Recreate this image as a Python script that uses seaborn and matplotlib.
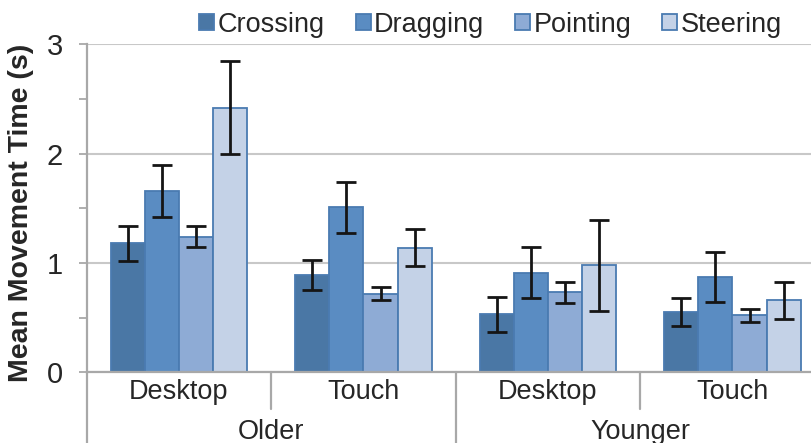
import matplotlib
matplotlib.use("Agg")
import matplotlib.pyplot as plt
import matplotlib.transforms as mtransforms
import numpy as np
import pandas as pd
import seaborn as sns

# values
conditions = ["Older Desktop", "Older Touch", "Younger Desktop", "Younger Touch"]
devices = ["Desktop", "Touch", "Desktop", "Touch"]
age_groups = ["Older", "Younger"]
tasks = ["Crossing", "Dragging", "Pointing", "Steering"]

crossing_mean = [1.18, 0.89, 0.53, 0.55]
dragging_mean = [1.66, 1.51, 0.91, 0.87]
pointing_mean = [1.24, 0.72, 0.73, 0.52]
steering_mean = [2.42, 1.14, 0.98, 0.66]

crossing_err = [0.16, 0.14, 0.16, 0.13]
dragging_err = [0.24, 0.235, 0.235, 0.23]
pointing_err = [0.095, 0.06, 0.093, 0.057]
steering_err = [0.425, 0.17, 0.415, 0.17]

means = {"Crossing": crossing_mean, "Dragging": dragging_mean,
         "Pointing": pointing_mean, "Steering": steering_mean}
errs = {"Crossing": crossing_err, "Dragging": dragging_err,
        "Pointing": pointing_err, "Steering": steering_err}

df = pd.DataFrame(
    [(c, t, means[t][i]) for t in tasks for i, c in enumerate(conditions)],
    columns=["condition", "task", "time"],
)

sns.set_style("white")
plt.rcParams["font.family"] = ["Liberation Sans", "DejaVu Sans"]

palette = ["#4a77a5", "#5a8cc2", "#8eabd5", "#c4d2e7"]
GRAY = "#a8a8a8"
FS = 19.5

fig = plt.figure(figsize=(8.12, 4.43), dpi=100)
ax = fig.add_axes([86.7 / 812, 0.1596, 1 - 86.7 / 812, 0.7404])

sns.barplot(data=df, x="condition", y="time", hue="task", order=conditions,
            hue_order=tasks, palette=palette, width=0.74, errorbar=None,
            edgecolor="#4a7bb1", linewidth=1.3, saturation=1, ax=ax)

# error bars placed on the drawn bars
for task, container in zip(tasks, ax.containers):
    for i, bar in enumerate(container.patches):
        cx = bar.get_x() + bar.get_width() / 2
        ax.errorbar(cx, bar.get_height(), yerr=errs[task][i], fmt="none",
                    ecolor="#151515", elinewidth=2.0, capsize=7.5, capthick=2.0,
                    zorder=5)

handles, labels = ax.get_legend_handles_labels()
ax.get_legend().remove()
fig.legend(handles, labels, loc="center", bbox_to_anchor=(0.604, 0.944),
           ncol=4, frameon=False, fontsize=FS, handlelength=0.55,
           handleheight=0.55, handletextpad=0.12, columnspacing=1.15,
           borderaxespad=0)

ax.set_xlim(-0.5, 3.431)
ax.set_ylim(0, 3)
ax.set_yticks([0, 1, 2, 3])
ax.set_yticks([0.5, 1.5, 2.5], minor=True)
ax.yaxis.grid(True, which="major", color="#c8c8c8", linewidth=1.5)
ax.set_axisbelow(True)
ax.tick_params(axis="y", which="both", direction="out", length=6,
               color=GRAY, width=1.3, left=True, labelsize=21, pad=11)
ax.set_xticks(range(len(conditions)))
ax.set_xticklabels(devices, fontsize=FS)
ax.tick_params(axis="x", length=0, pad=5)
ax.set_xlabel("")
ax.set_ylabel("Mean Movement Time (s)", fontsize=20.5, fontweight="bold")
ax.yaxis.set_label_coords(-0.073, 0.485)

for side in ["top", "right"]:
    ax.spines[side].set_visible(False)
for side in ["left", "bottom"]:
    ax.spines[side].set_color(GRAY)
    ax.spines[side].set_linewidth(1.6)

# hierarchical axis separators
trans = mtransforms.blended_transform_factory(ax.transData, ax.transAxes)
ax.plot([-0.5, -0.5], [0, -0.3], transform=trans, color=GRAY, lw=1.6,
        clip_on=False)
ax.plot([1.5, 1.5], [0, -0.3], transform=trans, color=GRAY, lw=1.6,
        clip_on=False)
for x in [0.5, 2.5]:
    ax.plot([x, x], [0, -0.112], transform=trans, color=GRAY, lw=1.6,
            clip_on=False)

for pos, name in zip([0.5, 2.5], age_groups):
    ax.text(pos, -0.203, name, transform=trans, ha="center", va="baseline",
            fontsize=FS)

fig.savefig("out.png", dpi=100)
